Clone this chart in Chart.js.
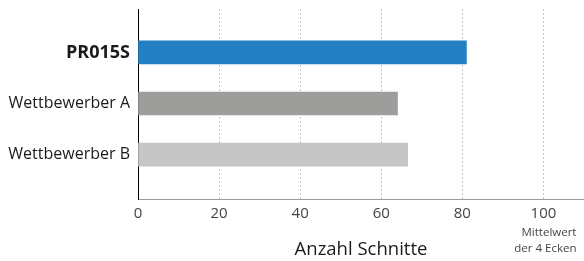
<!DOCTYPE html>
<html>
<head>
<meta charset="utf-8">
<script src="https://cdn.jsdelivr.net/npm/chart.js@4"></script>
<style>
	html, body { margin: 0; padding: 0; background: #fff; }
	#wrap { width: 584px; height: 261px; }
</style>
</head>
<body>
<div id="wrap"><canvas id="chart"></canvas></div>
<script>
const categories = ["PR015S", "Wettbewerber A", "Wettbewerber B"];
const values = [81, 64, 66.5];
const barColors = ["#2480c4", "#9d9d9c", "#c6c6c6"];
const xTicks = [0, 20, 40, 60, 80, 100];
const xTitle = "Anzahl Schnitte";
const noteLines = ["Mittelwert", "der 4 Ecken"];

const fontFamily = "'Open Sans', 'Noto Sans', sans-serif";

// note under the 100 tick
const notePlugin = {
	id: "note",
	afterDraw(chart) {
		const ctx = chart.ctx;
		const x = chart.scales.x.getPixelForValue(100) + 33;
		ctx.save();
		ctx.font = "11.5px " + fontFamily;
		ctx.fillStyle = "#444";
		ctx.textAlign = "right";
		ctx.textBaseline = "middle";
		ctx.fillText(noteLines[0], x, 233);
		ctx.fillText(noteLines[1], x, 249);
		ctx.restore();
	},
};

new Chart(document.getElementById("chart"), {
	type: "bar",
	data: {
		datasets: [
			{
				data: values.map((v, i) => ({ x: v, y: i })),
				backgroundColor: barColors,
				barThickness: 23,
			},
		],
	},
	options: {
		indexAxis: "y",
		responsive: true,
		maintainAspectRatio: false,
		animation: false,
		layout: { padding: { top: 9, right: 0, left: 0, bottom: 0 } },
		plugins: { legend: { display: false }, tooltip: { enabled: false } },
		scales: {
			x: {
				type: "linear",
				bounds: "data",
				min: 0,
				max: 110,
				afterBuildTicks: (s) => {
					s.ticks = xTicks.map((v) => ({ value: v }));
				},
				afterFit: (s) => {
					s.height = 62;
					s.paddingLeft = 0;
					s.paddingRight = 0;
				},
				ticks: {
					color: "#444",
					font: { family: fontFamily, size: 15 },
					padding: 6,
					includeBounds: false,
				},
				grid: {
					color: (c) => (c.tick && c.tick.value === 0 ? "rgba(0,0,0,0)" : "#c8c8c8"),
					lineWidth: 1,
					drawTicks: false,
				},
				border: { color: "#999999", dash: [2, 2], width: 1 },
				title: {
					display: true,
					text: xTitle,
					color: "#1a1a1a",
					font: { family: fontFamily, size: 18.5 },
					padding: { top: 0, bottom: 0 },
				},
			},
			y: {
				type: "linear",
				bounds: "data",
				offset: false,
				reverse: true,
				min: -0.85,
				max: 2.87,
				afterBuildTicks: (s) => {
					s.ticks = categories.map((c, i) => ({ value: i }));
				},
				afterFit: (s) => {
					s.width = 138;
					s.paddingTop = 0;
					s.paddingBottom = 0;
				},
				ticks: {
					color: "#1a1a1a",
					padding: 8,
					includeBounds: false,
					callback: (v) => categories[v],
					font: (c) => ({
						family: fontFamily,
						size: c.index === 0 ? 18 : 16,
						weight: c.index === 0 ? "bold" : "normal",
					}),
				},
				grid: { display: false, drawTicks: false, offset: false },
				border: { color: "#000", width: 1 },
			},
		},
	},
	plugins: [notePlugin],
});
</script>
</body>
</html>
